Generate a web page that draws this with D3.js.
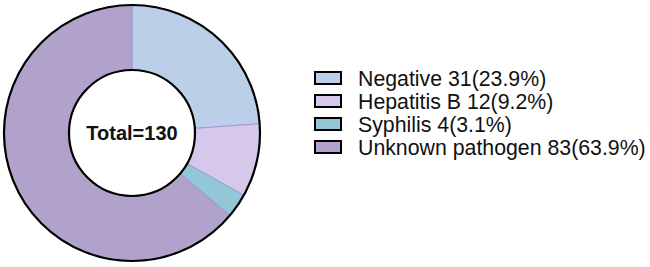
<!DOCTYPE html>
<html><head><meta charset="utf-8">
<script src="https://cdn.jsdelivr.net/npm/d3@7"></script>
<style>body{margin:0;background:#fff}svg{display:block}</style>
</head><body>
<svg id="c" width="650" height="267"></svg>
<script>
const categories = ["Negative", "Hepatitis B", "Syphilis", "Unknown pathogen"];
const values = [31, 12, 4, 83];
const percents = ["23.9%", "9.2%", "3.1%", "63.9%"];
const colors = ["#bccfe9", "#d5c8ea", "#93c6d6", "#b0a2cb"];
const total = 130;

const svg = d3.select("#c");
const cx = 132, cy = 133, rOuter = 128, rInner = 63;
const g = svg.append("g").attr("transform", `translate(${cx},${cy})`);
const pie = d3.pie().sort(null).value(d => d)(values);
const arc = d3.arc().innerRadius(rInner).outerRadius(rOuter);
g.selectAll("path.slice").data(pie).join("path")
  .attr("class", "slice")
  .attr("d", arc)
  .attr("fill", (d, i) => colors[i])
  .attr("stroke", "#9b90cf")
  .attr("stroke-width", 0.8);
g.append("circle").attr("r", rOuter).attr("fill", "none").attr("stroke", "#000").attr("stroke-width", 2.2);
g.append("circle").attr("r", rInner).attr("fill", "#fff").attr("stroke", "#000").attr("stroke-width", 2.2);
g.append("text").attr("text-anchor", "middle").attr("y", 7)
  .attr("font-family", "Liberation Sans, Arial, sans-serif")
  .attr("font-weight", "bold").attr("font-size", 20).attr("fill", "#111")
  .text(`Total=${total}`);

const legend = svg.append("g");
const rowY = d3.scalePoint().domain(categories).range([78, 147]);
const rows = legend.selectAll("g").data(categories).join("g")
  .attr("transform", d => `translate(0,${rowY(d)})`);
rows.append("rect").attr("x", 315).attr("y", -6).attr("width", 26).attr("height", 12)
  .attr("fill", (d, i) => colors[i]).attr("stroke", "#000").attr("stroke-width", 2);
rows.append("text").attr("x", 358).attr("y", 7.5)
  .attr("font-family", "Liberation Sans, Arial, sans-serif")
  .attr("font-size", 21.3).attr("fill", "#111")
  .text((d, i) => `${d} ${values[i]}(${percents[i]})`);
</script>
</body></html>
